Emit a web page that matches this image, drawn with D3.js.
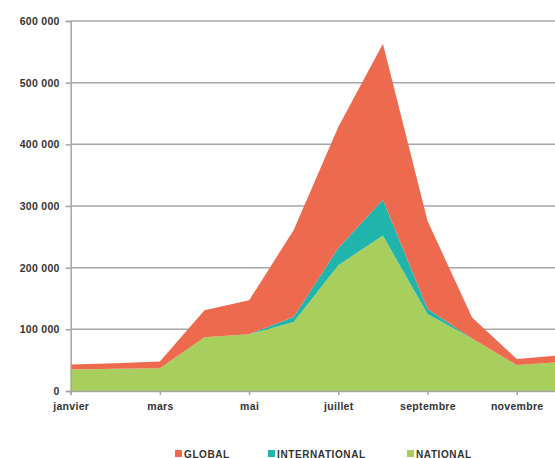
<!DOCTYPE html>
<html>
<head>
<meta charset="utf-8">
<script src="https://cdn.jsdelivr.net/npm/d3@7/dist/d3.min.js"></script>
<style>
  html, body { margin: 0; padding: 0; background: #fff; }
  svg { display: block; }
</style>
</head>
<body>
<svg id="chart" width="555" height="458"></svg>
<script>
const months = ["janvier","février","mars","avril","mai","juin","juillet","août","septembre","octobre","novembre","décembre"];
const shownMonths = ["janvier","mars","mai","juillet","septembre","novembre"];
const national      = [35000, 36000, 37000, 87000, 92000, 112000, 204000, 252000, 125000, 85000, 42000, 47000];
const international = [0, 0, 0, 0, 0, 8000, 28000, 58000, 8000, 0, 0, 0];
const global        = [8000, 9000, 11000, 44000, 55000, 141000, 196000, 253000, 143000, 34000, 10000, 11000];
const seriesNames = ["NATIONAL", "INTERNATIONAL", "GLOBAL"];
const seriesColors = { NATIONAL: "#A8CF5E", INTERNATIONAL: "#1FB5AD", GLOBAL: "#EE6A4E" };
const yTicks = [0, 100000, 200000, 300000, 400000, 500000, 600000];
const legendOrder = ["GLOBAL", "INTERNATIONAL", "NATIONAL"];

const svg = d3.select("#chart");
const W = 555;

const x = d3.scalePoint().domain(months).range([70.7, 561.3]);
const y = d3.scaleLinear().domain([0, 600000]).range([391, 21]);

const fr = d3.formatLocale({ decimal: ",", thousands: "\u00a0", grouping: [3], currency: ["", " €"] });
const fmt = fr.format(",d");

// gridlines
svg.append("g").selectAll("line").data(yTicks.filter(d => d > 0)).join("line")
  .attr("x1", 70.7).attr("x2", W)
  .attr("y1", d => y(d)).attr("y2", d => y(d))
  .attr("stroke", "#a6a6a6").attr("stroke-width", 1.5);

// stacked data
const table = months.map((m, i) => ({ month: m, NATIONAL: national[i], INTERNATIONAL: international[i], GLOBAL: global[i] }));
const stack = d3.stack().keys(seriesNames)(table);
const area = d3.area()
  .x(d => x(d.data.month))
  .y0(d => y(d[0]))
  .y1(d => y(d[1]));

svg.append("g").selectAll("path").data(stack).join("path")
  .attr("d", area)
  .attr("fill", d => seriesColors[d.key]);

const labelFont = "'Liberation Sans', Arial, sans-serif";

// y axis
const yAxis = d3.axisLeft(y).tickValues(yTicks).tickFormat(fmt).tickSize(5).tickPadding(6);
const gy = svg.append("g").attr("transform", "translate(70.7,0)").call(yAxis);
gy.select(".domain").attr("stroke", "#a6a6a6").attr("stroke-width", 1.5);
gy.selectAll(".tick line").attr("stroke", "#a6a6a6").attr("stroke-width", 1.5);
gy.selectAll(".tick text")
  .attr("font-family", labelFont).attr("font-weight", "bold")
  .attr("font-size", 10.5).attr("fill", "#333").attr("letter-spacing", "0.3px");

// x axis
const xAxis = d3.axisBottom(x).tickValues(shownMonths).tickSize(4).tickPadding(8);
const gx = svg.append("g").attr("transform", `translate(0,${y(0)})`).call(xAxis);
gx.select(".domain").attr("stroke", "#a6a6a6").attr("stroke-width", 1.5);
gx.selectAll(".tick line").attr("stroke", "#a6a6a6").attr("stroke-width", 1.5);
gx.selectAll(".tick text")
  .attr("font-family", labelFont).attr("font-weight", "bold")
  .attr("font-size", 10.5).attr("fill", "#333").attr("letter-spacing", "0.3px");

// legend
const legendX = { GLOBAL: 175, INTERNATIONAL: 268, NATIONAL: 407 };
const lg = svg.append("g");
legendOrder.forEach(k => {
  lg.append("rect").attr("x", legendX[k]).attr("y", 450).attr("width", 7).attr("height", 7)
    .attr("fill", seriesColors[k]);
  lg.append("text").attr("x", legendX[k] + 9).attr("y", 457.5)
    .attr("font-family", labelFont)
    .attr("font-size", 10).attr("font-weight", "bold").attr("fill", "#333")
    .attr("letter-spacing", "0.6px")
    .text(k);
});
</script>
</body>
</html>
